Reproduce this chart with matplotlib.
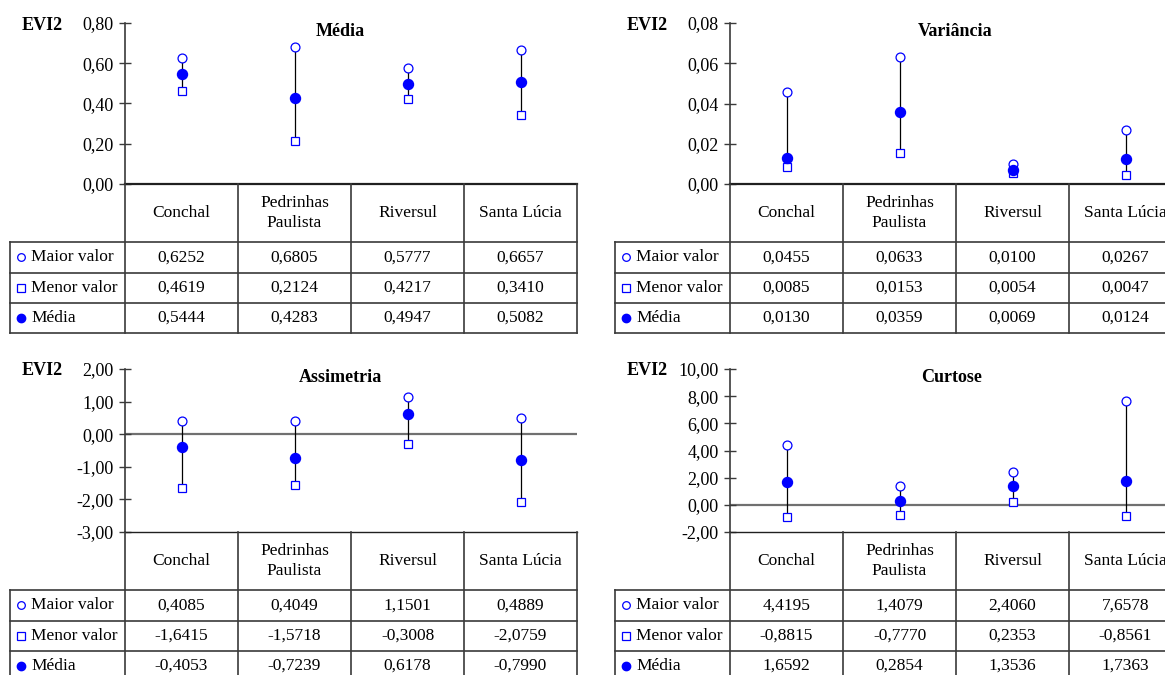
import numpy as np
import matplotlib
matplotlib.use("Agg")
import matplotlib.pyplot as plt
from matplotlib.ticker import FuncFormatter, MultipleLocator

plt.rcParams['font.family'] = ['Liberation Serif', 'DejaVu Serif']
plt.rcParams['axes.unicode_minus'] = False

# data
cidades = ["Conchal", "Pedrinhas\nPaulista", "Riversul", "Santa Lúcia"]
linhas = ["Maior valor", "Menor valor", "Média"]

titulos = ["Média", "Variância", "Assimetria", "Curtose"]

media_max = [0.6252, 0.6805, 0.5777, 0.6657]
media_min = [0.4619, 0.2124, 0.4217, 0.3410]
media_med = [0.5444, 0.4283, 0.4947, 0.5082]

var_max = [0.0455, 0.0633, 0.0100, 0.0267]
var_min = [0.0085, 0.0153, 0.0054, 0.0047]
var_med = [0.0130, 0.0359, 0.0069, 0.0124]

assim_max = [0.4085, 0.4049, 1.1501, 0.4889]
assim_min = [-1.6415, -1.5718, -0.3008, -2.0759]
assim_med = [-0.4053, -0.7239, 0.6178, -0.7990]

curt_max = [4.4195, 1.4079, 2.4060, 7.6578]
curt_min = [-0.8815, -0.7770, 0.2353, -0.8561]
curt_med = [1.6592, 0.2854, 1.3536, 1.7363]

# y axis ranges (min, max, step)
escalas = [(0.0, 0.8, 0.2), (0.0, 0.08, 0.02), (-3.0, 2.0, 1.0), (-2.0, 10.0, 2.0)]

series = [(media_max, media_min, media_med),
          (var_max, var_min, var_med),
          (assim_max, assim_min, assim_med),
          (curt_max, curt_min, curt_med)]

W, H = 1165, 675
fig = plt.figure(figsize=(W / 100, H / 100), dpi=100)

def rect(x0, y0, x1, y1):
    return [x0 / W, 1 - y1 / H, (x1 - x0) / W, (y1 - y0) / H]

# layout in pixels: (axis x, plot top, plot bottom, title x)
layout = [(125, 23, 184, 340), (730, 23, 184, 955),
          (125, 369, 532, 340), (730, 369, 532, 952)]

AZUL = "#0000ff"
CINZA = "#3a3a3a"
fs = 12.5
colw = 113
lblw = 115
rows = [0, 58, 88.5, 118.5, 148.5]

def fmt(v, nd=4):
    return f"{v:.{nd}f}".replace(".", ",")

for k in range(4):
    ax0, ytop, ybot, tx = layout[k]
    vmax, vmin, vmed = series[k]
    lo, hi, step = escalas[k]
    x = np.arange(len(cidades))

    ax = fig.add_axes(rect(ax0, ytop, ax0 + 4 * colw, ybot))
    ax.set_xlim(-0.5, 3.5)
    ax.set_ylim(lo, hi)
    ax.vlines(x, vmin, vmax, color="black", lw=0.9, zorder=2)
    ax.plot(x, vmin, ls="none", marker="s", ms=6.2, mfc="white", mec=AZUL, mew=0.9, zorder=3)
    ax.plot(x, vmax, ls="none", marker="o", ms=6.4, mfc="white", mec=AZUL, mew=0.9, zorder=3)
    ax.plot(x, vmed, ls="none", marker="o", ms=7.2, mfc=AZUL, mec=AZUL, zorder=4)
    if lo < 0:
        ax.axhline(0, color="#707070", lw=1.6, zorder=1)
    for s in ["top", "right"]:
        ax.spines[s].set_visible(False)
    ax.spines["left"].set_color(CINZA)
    ax.spines["left"].set_linewidth(1.2)
    ax.spines["bottom"].set_color("#202020")
    ax.spines["bottom"].set_linewidth(1.6 if lo == 0 else 1.0)
    ax.set_xticks([])
    ax.yaxis.set_major_locator(MultipleLocator(step))
    ax.yaxis.set_major_formatter(FuncFormatter(lambda v, p: fmt(v, 2)))
    ax.tick_params(axis="y", direction="inout", length=8, width=1, color=CINZA,
                   labelsize=13, pad=4)
    ax.patch.set_visible(False)
    ax.text((tx - ax0) / (4 * colw), 1 - 8 / (ybot - ytop), titulos[k],
            transform=ax.transAxes, ha="center", va="center",
            fontsize=13, fontweight="bold")
    fig.text((ax0 - 103) / W, 1 - (ytop + 2) / H, "EVI2", ha="left", va="center",
             fontsize=13, fontweight="bold")

    # data table
    tb = fig.add_axes(rect(ax0 - lblw, ybot, ax0 + 4 * colw, ybot + rows[-1]))
    tb.set_xlim(-lblw, 4 * colw)
    tb.set_ylim(rows[-1], 0)
    tb.axis("off")
    for r in rows[1:]:
        tb.plot([-lblw, 4 * colw], [r, r], color=CINZA, lw=1.2, clip_on=False)
    tb.plot([-lblw, -lblw], [rows[1], rows[-1]], color=CINZA, lw=1.2, clip_on=False)
    for c in range(5):
        tb.plot([c * colw, c * colw], [0, rows[-1]], color=CINZA, lw=1.2, clip_on=False)
    for c, nome in enumerate(cidades):
        tb.text(c * colw + colw / 2, rows[1] / 2, nome, ha="center", va="center",
                fontsize=fs, linespacing=1.35, clip_on=False)
    estilos = [dict(marker="o", mfc="white", mec=AZUL, ms=5.5, mew=0.9),
               dict(marker="s", mfc="white", mec=AZUL, ms=5.5, mew=0.9),
               dict(marker="o", mfc=AZUL, mec=AZUL, ms=6)]
    for i, (nome, vals) in enumerate(zip(linhas, [vmax, vmin, vmed])):
        yc = (rows[i + 1] + rows[i + 2]) / 2
        tb.plot([-lblw + 11], [yc], ls="none", clip_on=False, **estilos[i])
        tb.text(-lblw + 21, yc, nome, ha="left", va="center", fontsize=fs, clip_on=False)
        for c, v in enumerate(vals):
            tb.text(c * colw + colw / 2, yc, fmt(v), ha="center", va="center",
                    fontsize=fs, clip_on=False)

fig.savefig("out.png", dpi=100, facecolor="white")
